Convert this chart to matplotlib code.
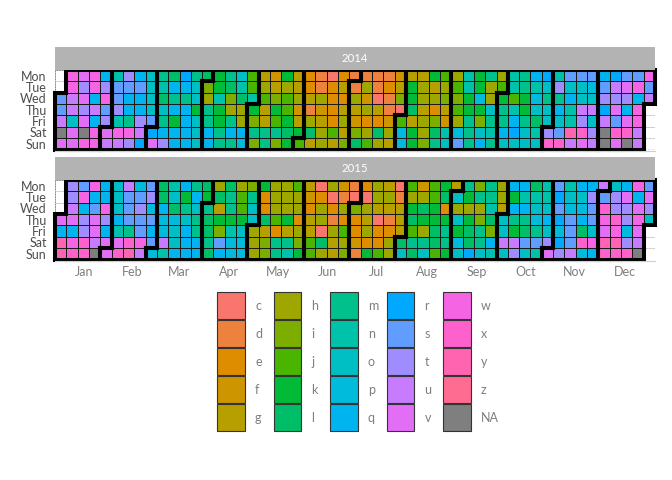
import datetime
import numpy as np
import matplotlib
matplotlib.use('Agg')
import matplotlib.pyplot as plt
from matplotlib.colors import ListedColormap
from matplotlib.patches import Rectangle
from matplotlib.collections import LineCollection

plt.rcParams['font.family'] = ['Lato', 'DejaVu Sans']

# categories (hue palette like ggplot) + NA
LEVELS = list('cdefghijklmnopqrstuvwxyz')
NA_COLOR = '#7F7F7F'
WEEKDAYS = ['Mon', 'Tue', 'Wed', 'Thu', 'Fri', 'Sat', 'Sun']
MONTHS = ['Jan', 'Feb', 'Mar', 'Apr', 'May', 'Jun', 'Jul', 'Aug', 'Sep', 'Oct', 'Nov', 'Dec']
YEARS = [2014, 2015]

# one string per weekday row, one char per week column; '-' = NA, ' ' = no day
cal_2014 = [
    " wvwqntqomlrmlkm" + "ojgfkgedceddddfggkj" + "hnkmhnmqrnsssqrssw",
    " wtwtsssonqqoikl" + "njhghgedegdhdegkhgh" + "jnkhjnmnotoopsuvws",
    "suvqwsqqolmmohni" + "lnjijhgheehfcdikhhi" + "ikphkjkpmmqootttqu",
    "sutustqqooqqkmkh" + "hkgkjfdfegghgdclgeg" + "jkkomnkooqnuurvqw ",
    "uovqtnmtsmkqomkm" + "higjkghgehfeefjghif" + "hmimmqmloontousvw ",
    "-v-wvwwurqqqoqmq" + "qmmmlklhjgihlhpkhln" + "pmonqrontsyxt-xxu ",
    "vvwwuutrvtqqoqmm" + "pimikjghgiljhgpkimo" + "smqmooooxxuvu-v-u ",
]
cal_2015 = [
    " tswqoupslnqmlhl" + "hikhhjgchfdehgcjfjk" + "gmimhqqlnsnqquoqws",
    " twqqosstlokqklm" + "jmehhhfecdcchhdhhjl" + "okmmhknnnrootstvqv",
    " uqswostpqlmomgm" + "joehhhehehihgggklke" + "hhhngqqoosppsxttvt",
    "vvtvtqsssppomlkk" + "koljkeghdeegcdglkkk" + "okilommpqrsqswxtwo",
    "qqtvqnmsqpoqmlin" + "ohgeghgchjeheegjhlm" + "klmioklmopslovwpv ",
    "ywxuvvxwsuoqqmsp" + "phimmijlghfeehlmmlm" + "plmquusstrsxwyytu ",
    "yxx-vxyupnqqqlqp" + "phimnkjhgidkjholojk" + "oronotonvtupqxxx- ",
]
calendars = {2014: cal_2014, 2015: cal_2015}


def hcl(h, c=100.0, l=65.0):
    # polarLUV -> sRGB (as R's hcl())
    hr = np.radians(h)
    U, V = c * np.cos(hr), c * np.sin(hr)
    Xn, Yn, Zn = 95.047, 100.0, 108.883
    un = 4 * Xn / (Xn + 15 * Yn + 3 * Zn)
    vn = 9 * Yn / (Xn + 15 * Yn + 3 * Zn)
    Y = Yn * ((l + 16) / 116) ** 3
    u = U / (13 * l) + un
    v = V / (13 * l) + vn
    X = 9 * Y * u / (4 * v)
    Z = -X / 3 - 5 * Y + 3 * Y / v
    X, Y, Z = X / 100, Y / 100, Z / 100
    rgb = [3.240479 * X - 1.537150 * Y - 0.498535 * Z,
           -0.969256 * X + 1.875992 * Y + 0.041556 * Z,
           0.055648 * X - 0.204043 * Y + 1.057311 * Z]
    out = []
    for t in rgb:
        t = 12.92 * t if t <= 0.0031308 else 1.055 * t ** (1 / 2.4) - 0.055
        out.append(min(max(t, 0), 1))
    return tuple(out)


n = len(LEVELS)
hues = np.linspace(15, 375, n + 1)[:n]
palette = [hcl(h) for h in hues]
cmap = ListedColormap(palette + [NA_COLOR])

W, H = 672, 480
fig = plt.figure(figsize=(W / 100, H / 100), dpi=100)
over = fig.add_axes([0, 0, 1, 1], zorder=5)
over.set_xlim(0, W)
over.set_ylim(H, 0)
over.axis('off')
over.patch.set_alpha(0)

panel_top = {2014: 70, 2015: 180}
month_cols = {}
axes = []
for year in YEARS:
    rows = calendars[year]
    vals = np.full((7, 53), -1)
    mon = np.full((7, 53), -1)
    wd0 = datetime.date(year, 1, 1).weekday()
    d = datetime.date(year, 1, 1)
    while d.year == year:
        doy = d.timetuple().tm_yday
        col = (doy - 1 + wd0) // 7
        row = d.weekday()
        ch = rows[row][col]
        vals[row, col] = LEVELS.index(ch) if ch in LEVELS else n
        mon[row, col] = d.month - 1
        month_cols.setdefault(d.month - 1, []).append(col)
        d += datetime.timedelta(days=1)

    top = panel_top[year]
    ax = fig.add_axes([55 / W, 1 - (top + 79.5) / H, 600 / W, 79.5 / H])
    axes.append(ax)
    C = np.ma.masked_less(vals, 0)
    ax.pcolormesh(np.arange(54), np.arange(8), C, cmap=cmap, vmin=-0.5, vmax=n + 0.5,
                  edgecolors='#1a1a1a', linewidth=0.6)
    for r in range(7):
        for c in range(53):
            if mon[r, c] < 0:
                ax.add_patch(Rectangle((c, r), 1, 1, facecolor='white', edgecolor='#d0d0d0',
                                       linestyle=':', linewidth=0.7))
    # month outlines
    segs = []
    for r in range(7):
        for c in range(53):
            m = mon[r, c]
            if m < 0:
                continue
            if c == 52 or mon[r, c + 1] != m:
                segs.append([(c + 1, r), (c + 1, r + 1)])
            if c == 0 or mon[r, c - 1] != m:
                segs.append([(c, r), (c, r + 1)])
            if r == 6 or mon[r + 1, c] != m:
                segs.append([(c, r + 1), (c + 1, r + 1)])
            if r == 0 or mon[r - 1, c] != m:
                segs.append([(c, r), (c + 1, r)])
    ax.add_collection(LineCollection(segs, colors='black', linewidths=2.9,
                                     capstyle='projecting', clip_on=False, zorder=4))
    ax.set_xlim(0, 53)
    ax.set_ylim(7, 0)
    for s in ax.spines.values():
        s.set_visible(False)
    ax.set_yticks(np.arange(7) + 0.5)
    ax.set_yticklabels(WEEKDAYS, fontsize=9, color='#4D4D4D')
    ax.tick_params(length=0, pad=6)
    ax.set_xticks([])

    # strip
    over.add_patch(Rectangle((55, top - 23), 600, 23, facecolor='#B3B3B3', edgecolor='none'))
    over.text(355, top - 11.5, str(year), color='white', fontsize=8.2, ha='center', va='center')
    over.plot([55, 655], [top + 81, top + 81], color='#cfcfcf', lw=0.8)

# month labels at the mean week of each month (both years)
pos = [np.mean(month_cols[m]) + 0.5 for m in range(12)]
axes[-1].set_xticks(pos)
axes[-1].set_xticklabels(MONTHS, fontsize=9, color='#7F7F7F')
axes[-1].tick_params(axis='x', pad=5)

# legend
for j in range(5):
    for i in range(5):
        k = j * 5 + i
        x0 = 217 + 56.5 * j
        y0 = 292 + 28 * i
        col = palette[k] if k < n else NA_COLOR
        lab = LEVELS[k] if k < n else 'NA'
        over.add_patch(Rectangle((x0, y0), 27.5, 27, facecolor=col, edgecolor='#333333', lw=0.8))
        over.text(x0 + 38, y0 + 13.5, lab, color='#7F7F7F', fontsize=9, va='center', ha='left')

fig.savefig('out.png', dpi=100)
